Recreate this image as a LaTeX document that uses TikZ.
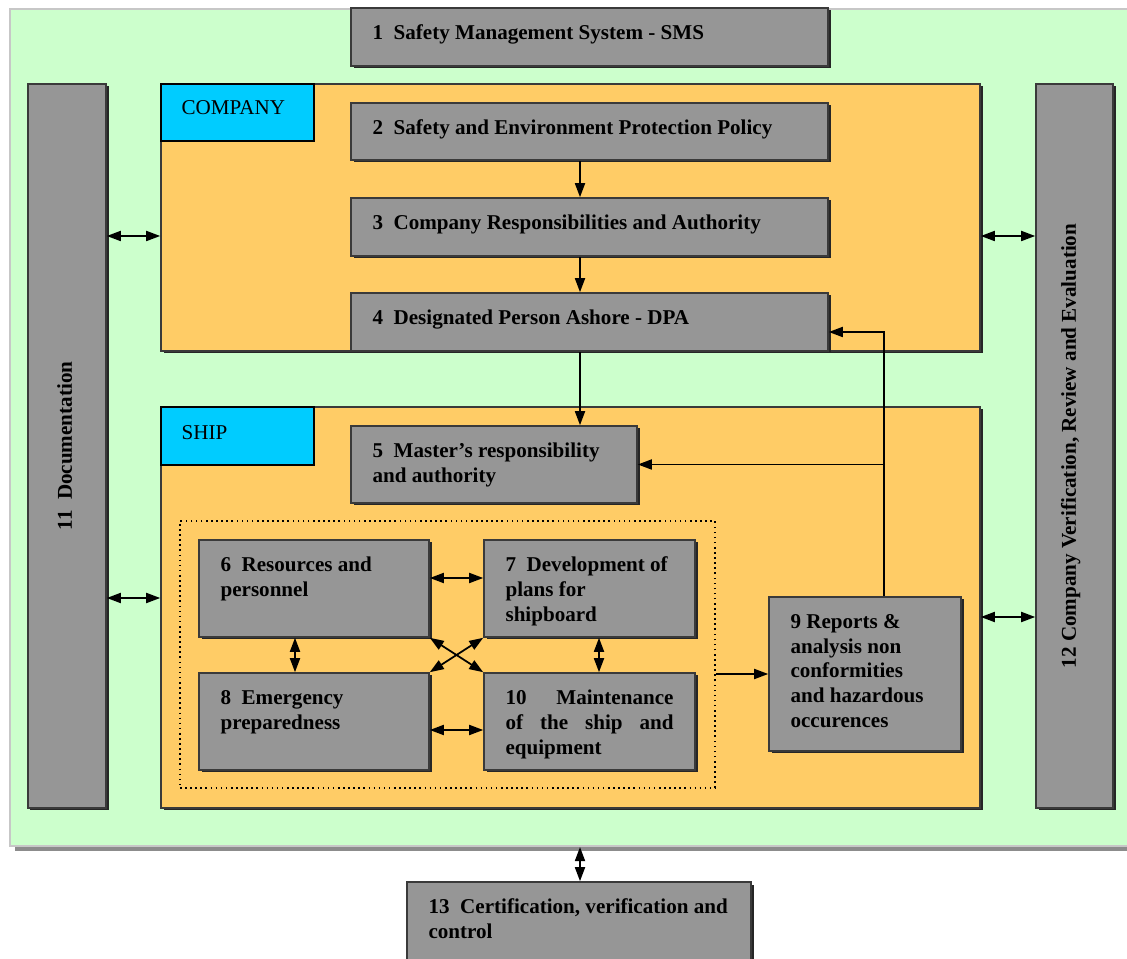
\documentclass[tikz,border=0pt]{standalone}
\usepackage{fontspec}
\setmainfont{Liberation Serif}
\usetikzlibrary{arrows.meta,shadows}
\definecolor{smsgreen}{HTML}{CCFFCC}
\definecolor{smsorange}{HTML}{FFCC66}
\definecolor{smscyan}{HTML}{00CCFF}
\definecolor{smsgray}{HTML}{969696}
\definecolor{smsedge}{HTML}{3A3A3A}

\begin{document}
\begin{tikzpicture}[x=0.02cm, y=-0.02cm,
        box/.style 2 args={draw=smsedge, line width=0.9pt, fill=smsgray, inner sep=0pt,
            minimum width=#1*0.02cm, minimum height=#2*0.02cm,
            drop shadow={shadow xshift=0.05cm, shadow yshift=-0.05cm, fill=black!85, opacity=1}},
        frame/.style 2 args={box={#1}{#2}, fill=smsorange},
        tag/.style 2 args={draw=black, line width=0.9pt, fill=smscyan, inner sep=0pt,
            minimum width=#1*0.02cm, minimum height=#2*0.02cm},
        txt/.style={anchor=north west, inner sep=0pt, align=left, execute at begin node=\strut,
            font=\fontsize{12pt}{14.2pt}\selectfont\bfseries},
        tagtxt/.style={txt, font=\fontsize{12pt}{14.2pt}\selectfont},
        arr/.style={line width=1pt, -{Triangle[length=0.28cm,width=0.2cm]}},
        darr/.style={line width=1pt, {Triangle[length=0.28cm,width=0.2cm]}-{Triangle[length=0.28cm,width=0.2cm]}}]
            \useasboundingbox (0,0) rectangle (1127,959);

            \node[draw=black!22, line width=1.2pt, fill=smsgreen, minimum width=1125*0.02cm, minimum height=837*0.02cm,
                drop shadow={shadow xshift=0.1cm, shadow yshift=-0.1cm, fill=black!45, opacity=1}] (sms) at (572.5,427.5){};

            \node[box={477}{58}] (b1) at (589.5,37){};
            \node[box={78}{724}] (b11) at (67,446){};
            \node[box={77}{724}] (b12) at (1074.5,446){};

            \node[frame={819}{267}] (company) at (570.5,217.5){};
            \node[tag={153}{57}] (ctag) at (237.5,112.5){};
            \node[box={477}{57}] (b2) at (589.5,131.5){};
            \node[box={477}{58}] (b3) at (589.5,227){};
            \node[box={477}{58}] (b4) at (589.5,322){};

            \node[frame={819}{401}] (ship) at (570.5,607.5){};
            \node[tag={153}{58}] (stag) at (237.5,436){};
            \node[box={286}{77}] (b5) at (494,464.5){};
            \node[draw, dotted, line width=0.9pt, minimum width=535*0.02cm, minimum height=267*0.02cm] (grp) at (447.5,654.5){};
            \node[box={230}{97}] (b6) at (314,588.5){};
            \node[box={211}{97}] (b7) at (589.5,588.5){};
            \node[box={230}{97}] (b8) at (314,721.5){};
            \node[box={211}{97}] (b10) at (589.5,721.5){};
            \node[box={192}{154}] (b9) at (865,674){};

            \node[box={344}{80}] (b13) at (579,922){};

            \node[txt] (t1) at ([shift={(22,14.5)}]b1.north west) {1~~Safety Management System - SMS};
            \node[tagtxt] (tc) at ([shift={(21,13.5)}]ctag.north west) {COMPANY};
            \node[txt] (t2) at ([shift={(22,14.5)}]b2.north west) {2~~Safety and Environment Protection Policy};
            \node[txt] (t3) at ([shift={(22,14.5)}]b3.north west) {3~~Company Responsibilities and Authority};
            \node[txt] (t4) at ([shift={(22,14.5)}]b4.north west) {4~~Designated Person Ashore - DPA};
            \node[tagtxt] (ts) at ([shift={(21,15)}]stag.north west) {SHIP};
            \node[txt] (t5) at ([shift={(22,17.5)}]b5.north west) {5~~Master’s responsibility\\and authority};
            \node[txt] (t6) at ([shift={(22,17.5)}]b6.north west) {6~~Resources and\\personnel};
            \node[txt] (t7) at ([shift={(22,17.5)}]b7.north west) {7~~Development of\\plans for\\shipboard};
            \node[txt] (t8) at ([shift={(22,17.5)}]b8.north west) {8~~Emergency\\preparedness};
            \node[txt] (t10) at ([shift={(22,17.5)}]b10.north west) {\makebox[3.36cm][s]{10 Maintenance}\\\makebox[3.36cm][s]{of the ship and}\\equipment};
            \node[txt] (t9) at ([shift={(22,17.5)}]b9.north west) {9 Reports \&\\analysis non\\conformities\\and hazardous\\occurences};
            \node[txt] (t13) at ([shift={(22,17.5)}]b13.north west) {13~~Certification, verification and\\control};
            \node[txt, anchor=center, rotate=90] (t11) at (b11) {11~~Documentation};
            \node[txt, anchor=center, rotate=90] (t12) at ([xshift=-2]b12) {12 Company Verification, Review and Evaluation};

            \coordinate (spine) at (580,0);
            \coordinate (fb) at (884,332);
            \coordinate (r1) at (0,236);
            \coordinate (r2) at (0,598);
            \coordinate (r3) at (0,617);
            \coordinate (r4) at (0,578);
            \coordinate (r5) at (0,730);
            \coordinate (c1) at (295,0);
            \coordinate (c2) at (599,0);

            \draw[arr] (b2.south -| spine) -- (b3.north -| spine);
            \draw[arr] (b3.south -| spine) -- (b4.north -| spine);
            \draw[arr] (b4.south -| spine) -- (b5.north -| spine);
            \draw[darr] (b11.east |- r1) -- (company.west |- r1);
            \draw[darr] (b11.east |- r2) -- (ship.west |- r2);
            \draw[darr] (company.east |- r1) -- (b12.west |- r1);
            \draw[darr] (ship.east |- r3) -- (b12.west |- r3);
            \draw[arr] (b9.north -| fb) |- (b4.east |- fb);
            \draw[arr] (fb |- b5.east) -- (b5.east);
            \draw[arr] (grp.east |- b9.west) -- (b9.west);
            \draw[darr] (b6.east |- r4) -- (b7.west |- r4);
            \draw[darr] (b8.east |- r5) -- (b10.west |- r5);
            \draw[darr] (b6.south -| c1) -- (b8.north -| c1);
            \draw[darr] (b7.south -| c2) -- (b10.north -| c2);
            \draw[darr] (b6.south east) -- (b10.north west);
            \draw[darr] (b7.south west) -- (b8.north east);
            \draw[darr] (sms.south -| spine) -- (b13.north -| spine);
        \end{tikzpicture}
\end{document}
